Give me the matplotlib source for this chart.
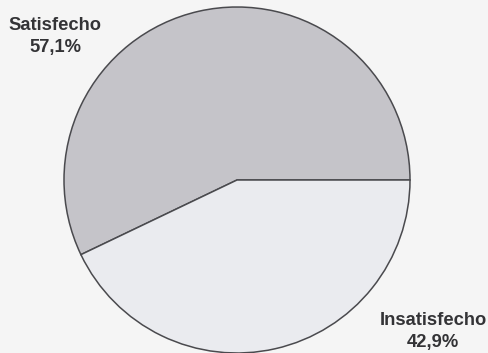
import matplotlib
matplotlib.use("Agg")
import matplotlib.pyplot as plt

# Survey result: share of satisfied vs. unsatisfied respondents
categories = ["Satisfecho", "Insatisfecho"]
shares = [57.1, 42.9]
colors = ["#c5c4c9", "#eaebef"]

W, H = 489, 353
fig = plt.figure(figsize=(W / 100, H / 100), dpi=100, facecolor="#f5f5f5")

# Pie axes: centre (237, 180) px, radius 173 px
cx, cy, r = 237, 180, 173
ax = fig.add_axes([(cx - r) / W, (H - cy - r) / H, 2 * r / W, 2 * r / H])
ax.set_facecolor("none")
ax.pie(shares, colors=colors, startangle=0, counterclock=True, radius=1.0,
       wedgeprops=dict(edgecolor="#4a4a4e", linewidth=1.1))
ax.set_xlim(-1.0, 1.0)
ax.set_ylim(-1.0, 1.0)
ax.set_aspect("equal")
ax.axis("off")

# Category labels with the percentage underneath (decimal comma)
label_pos = [(55, 30, 52), (433, 325, 347)]  # x, baseline of name, baseline of value (px)
for name, val, (x, y1, y2) in zip(categories, shares, label_pos):
    pct = f"{val:.1f}%".replace(".", ",")
    for txt, yb in ((name, y1), (pct, y2)):
        fig.text(x / W, 1 - yb / H, txt, ha="center", va="baseline",
                 fontsize=13.2, fontweight="bold", color="#333336",
                 family=["Liberation Sans", "DejaVu Sans"])

fig.savefig("out.png", dpi=100, facecolor=fig.get_facecolor())
